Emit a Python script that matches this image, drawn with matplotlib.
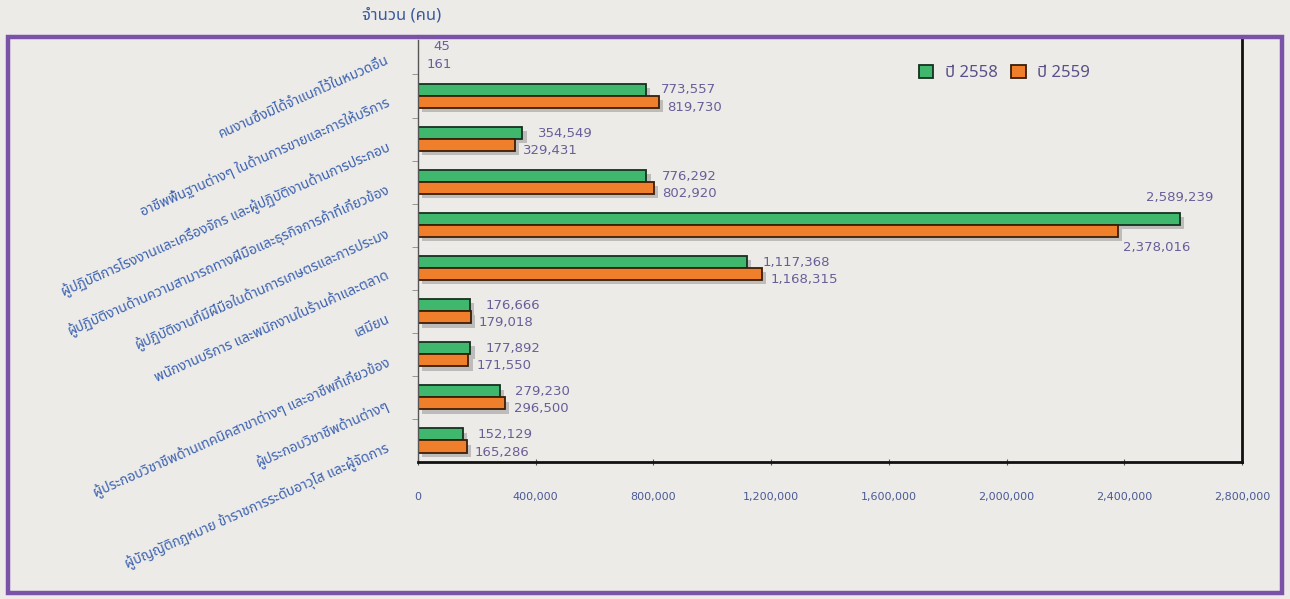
import numpy as np
import matplotlib
matplotlib.use("Agg")
import matplotlib.pyplot as plt
import matplotlib.patheffects as pe
from matplotlib.patches import Patch, Rectangle
from matplotlib.transforms import ScaledTranslation
from matplotlib import font_manager
from matplotlib.ft2font import FT2Font


# หาฟอนต์ที่มีอักษรไทย
def find_thai_family():
    names = []
    for fe in font_manager.fontManager.ttflist:
        try:
            f = FT2Font(fe.fname)
            if f.get_char_index(ord("ก")) and f.get_char_index(ord("1")):
                names.append(fe.name)
        except Exception:
            pass
    for pref in ["Noto Sans Thai", "Noto Sans Thai UI", "Tahoma", "Loma", "Garuda", "Sarabun"]:
        if pref in names:
            return pref
    return names[0] if names else None


thai = find_thai_family()
families = [thai, "DejaVu Sans"] if thai else ["DejaVu Sans"]
plt.rcParams["font.family"] = families

categories = [
    "คนงานซึ่งมิได้จำแนกไว้ในหมวดอื่น",
    "อาชีพพื้นฐานต่างๆ ในด้านการขายและการให้บริการ",
    "ผู้ปฏิบัติการโรงงานและเครื่องจักร และผู้ปฏิบัติงานด้านการประกอบ",
    "ผู้ปฏิบัติงานด้านความสามารถทางฝีมือและธุรกิจการค้าที่เกี่ยวข้อง",
    "ผู้ปฏิบัติงานที่มีฝีมือในด้านการเกษตรและการประมง",
    "พนักงานบริการ และพนักงานในร้านค้าและตลาด",
    "เสมียน",
    "ผู้ประกอบวิชาชีพด้านเทคนิคสาขาต่างๆ และอาชีพที่เกี่ยวข้อง",
    "ผู้ประกอบวิชาชีพด้านต่างๆ",
    "ผู้บัญญัติกฎหมาย ข้าราชการระดับอาวุโส และผู้จัดการ",
]
y2558 = [45, 773557, 354549, 776292, 2589239, 1117368, 176666, 177892, 279230, 152129]
y2559 = [161, 819730, 329431, 802920, 2378016, 1168315, 179018, 171550, 296500, 165286]
legend_labels = ["ปี 2558", "ปี 2559"]
xticks = [0, 400000, 800000, 1200000, 1600000, 2000000, 2400000, 2800000]

green = "#3fb76c"
orange = "#f07f2c"
num_color = "#6b5d98"
bg = "#ecebe8"

fig = plt.figure(figsize=(12.9, 5.99), dpi=100, facecolor=bg)
ax = fig.add_axes([418 / 1290, 1 - 462 / 599, 824 / 1290, 422 / 599])
ax.set_facecolor(bg)

y = np.arange(len(categories))
h = 0.28
shadow = [pe.SimplePatchShadow(offset=(3, -3), shadow_rgbFace="#777777", alpha=0.4), pe.Normal()]
b1 = ax.barh(y - h / 2, y2558, height=h, color=green, edgecolor="#15301f", linewidth=1.3)
b2 = ax.barh(y + h / 2, y2559, height=h, color=orange, edgecolor="#3a1e08", linewidth=1.3)
for b in list(b1) + list(b2):
    b.set_path_effects(shadow)

biggest = max(y2558)
nfs = 9.5
for i in range(len(categories)):
    if y2558[i] == biggest:
        ax.annotate(f"{y2558[i]:,}", (y2558[i], y[i] - h / 2), xytext=(0, 11), textcoords="offset points",
                    ha="center", va="bottom", fontsize=nfs, color=num_color, family="DejaVu Sans")
        ax.annotate(f"{y2559[i]:,}", (y2559[i], y[i] + h / 2), xytext=(4, -7), textcoords="offset points",
                    ha="left", va="top", fontsize=nfs, color=num_color, family="DejaVu Sans")
    else:
        ax.annotate(f"{y2558[i]:,}", (y2558[i], y[i] - h / 2), xytext=(11, 0), textcoords="offset points",
                    ha="left", va="center", fontsize=nfs, color=num_color, family="DejaVu Sans")
        ax.annotate(f"{y2559[i]:,}", (y2559[i], y[i] + h / 2), xytext=(6, -4), textcoords="offset points",
                    ha="left", va="center", fontsize=nfs, color=num_color, family="DejaVu Sans")

ax.set_xlim(0, 2800000)
ax.set_ylim(9.5, -0.3)
ax.set_xticks(xticks)
ax.set_xticklabels([f"{v:,}" for v in xticks], fontsize=8, color="#4a5a96", family="DejaVu Sans")
ax.tick_params(axis="x", direction="inout", length=5, width=0.8, color="#555555", pad=19)

ax.set_yticks(y)
ax.set_yticklabels(categories, fontsize=10, color="#3c62b0", rotation=24,
                   ha="right", va="center", rotation_mode="anchor")
ax.tick_params(axis="y", length=0, pad=21)
# เลื่อนป้ายแกน y ลงเล็กน้อย
for lab in ax.get_yticklabels():
    lab.set_transform(lab.get_transform() + ScaledTranslation(0, -5 / 72, fig.dpi_scale_trans))
ax.set_yticks(np.arange(0.5, 9.5, 1), minor=True)
ax.tick_params(axis="y", which="minor", length=4, color="#888888", direction="out")

ax.spines["top"].set_visible(False)
ax.spines["left"].set_color("#555555")
ax.spines["left"].set_linewidth(1.0)
ax.spines["bottom"].set_color("#111111")
ax.spines["bottom"].set_linewidth(2.0)
ax.spines["right"].set_color("#111111")
ax.spines["right"].set_linewidth(2.0)
ax.spines["right"].set_bounds(-0.33, 9.5)

handles = [Patch(facecolor=green, edgecolor="#15301f", linewidth=1.3),
           Patch(facecolor=orange, edgecolor="#3a1e08", linewidth=1.3)]
leg = ax.legend(handles, legend_labels, loc="center", bbox_to_anchor=(0.712, 0.922), ncol=2,
                frameon=False, fontsize=12, handlelength=0.85, handleheight=0.85,
                columnspacing=0.8, handletextpad=0.7)
for t in leg.get_texts():
    t.set_color("#5a4f88")

# กรอบสีม่วง
fig.patches.append(Rectangle((8 / 1290, 1 - 593 / 599), 1274 / 1290, 556 / 599, transform=fig.transFigure,
                             fill=False, edgecolor="#7a52a8", linewidth=3.2))
fig.text(362 / 1290, 1 - 16 / 599, "จำนวน (คน)", fontsize=12, color="#3a5a9c", ha="left", va="center")

fig.savefig("out.png", dpi=100, facecolor=bg)
